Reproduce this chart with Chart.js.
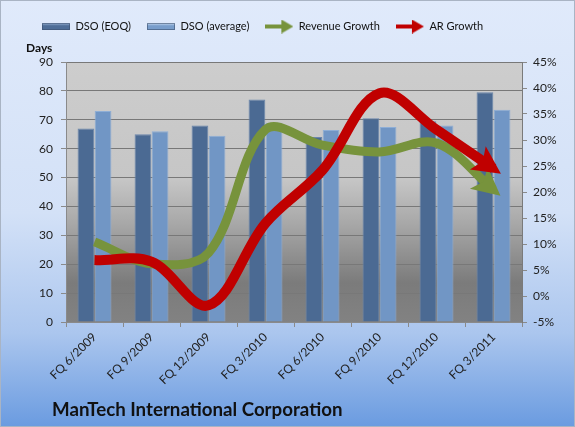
<!DOCTYPE html>
<html>
<head>
<meta charset="utf-8">
<script src="https://cdn.jsdelivr.net/npm/chart.js@4"></script>
<style>
  html, body { margin: 0; padding: 0; background: #fff; }
</style>
</head>
<body>
<canvas id="myChart" width="575" height="427"></canvas>
<script>
// values
const quarters = ['FQ 6/2009', 'FQ 9/2009', 'FQ 12/2009', 'FQ 3/2010', 'FQ 6/2010', 'FQ 9/2010', 'FQ 12/2010', 'FQ 3/2011'];
const dsoEoq = [67, 65, 68, 77, 64, 70.5, 69.5, 79.5];
const dsoAvg = [73, 66, 64.5, 69, 66.5, 67.5, 68, 73.5];
const revenueGrowth = [10.4, 6.2, 8.3, 32, 29, 27.7, 29.4, 20.4];   // %
const arGrowth = [6.9, 6.6, -1.8, 14, 24.2, 39, 32, 24.5];          // %
const chartTitle = 'ManTech International Corporation';

const FONT = 'Lato, "Open Sans", sans-serif';

// little pictures for the legend
function barSwatch(c1, c2) {
  const c = document.createElement('canvas');
  c.width = 28; c.height = 7;
  const g = c.getContext('2d');
  const gr = g.createLinearGradient(0, 0, 0, 7);
  gr.addColorStop(0, c2);
  gr.addColorStop(0.4, c1);
  gr.addColorStop(1, c1);
  g.fillStyle = gr;
  g.fillRect(0, 0, 28, 7);
  g.strokeStyle = 'rgba(60,80,110,0.6)';
  g.strokeRect(0.5, 0.5, 27, 6);
  return c;
}
function arrowSwatch(col) {
  const c = document.createElement('canvas');
  c.width = 28; c.height = 14;
  const g = c.getContext('2d');
  g.fillStyle = col;
  g.fillRect(0, 5, 18, 4);
  g.beginPath();
  g.moveTo(16, 0);
  g.lineTo(28, 7);
  g.lineTo(16, 14);
  g.closePath();
  g.fill();
  return c;
}
const swatches = [
  barSwatch('#4e6d97', '#9db6d8'),
  barSwatch('#789dcb', '#cfe0f5'),
  arrowSwatch('#77933c'),
  arrowSwatch('#c00000')
];

const background = {
  id: 'background',
  beforeDraw(chart) {
    const {ctx, width, height, chartArea: a} = chart;
    ctx.save();
    let g = ctx.createLinearGradient(0, 0, 0, height);
    g.addColorStop(0, '#e0eafb');
    g.addColorStop(0.5, '#d3e1f7');
    g.addColorStop(0.78, '#abc6ee');
    g.addColorStop(1, '#6a9be0');
    ctx.fillStyle = g;
    ctx.fillRect(0, 0, width, height);
    ctx.strokeStyle = '#a9b4c4';
    ctx.lineWidth = 1;
    ctx.strokeRect(0.5, 0.5, width - 1, height - 1);

    g = ctx.createLinearGradient(0, a.top, 0, a.bottom);
    g.addColorStop(0, '#cdcdcd');
    g.addColorStop(0.45, '#c6c6c6');
    g.addColorStop(0.62, '#a8a8a8');
    g.addColorStop(0.85, '#7b7b7b');
    g.addColorStop(1, '#828282');
    ctx.fillStyle = g;
    ctx.fillRect(a.left, a.top, a.right - a.left, a.bottom - a.top);
    ctx.restore();
  },
  afterDraw(chart) {
    const ctx = chart.ctx;
    ctx.save();
    ctx.font = 'bold 18.7px ' + FONT;
    ctx.fillStyle = '#111';
    ctx.textBaseline = 'middle';
    ctx.fillText(chartTitle, 52, 410);
    ctx.restore();
  }
};

// arrow heads at the end of the two growth lines
const arrowHeads = {
  id: 'arrowHeads',
  afterDatasetsDraw(chart) {
    const ctx = chart.ctx;
    chart.data.datasets.forEach((ds, i) => {
      if (ds.type !== 'line') return;
      const pts = chart.getDatasetMeta(i).data;
      const last = pts[pts.length - 1];
      const prev = pts[pts.length - 2];
      const fx = last.cp1x !== undefined ? last.cp1x : prev.x;
      const fy = last.cp1y !== undefined ? last.cp1y : prev.y;
      let dx = last.x - fx, dy = last.y - fy;
      const len = Math.hypot(dx, dy) || 1;
      dx /= len; dy /= len;
      const tipX = last.x + dx * 9, tipY = last.y + dy * 9;
      const baseX = tipX - dx * 28, baseY = tipY - dy * 28;
      const hw = 14;
      ctx.save();
      ctx.fillStyle = ds.borderColor;
      ctx.beginPath();
      ctx.moveTo(tipX, tipY);
      ctx.lineTo(baseX - dy * hw, baseY + dx * hw);
      ctx.lineTo(baseX + dx * 6, baseY + dy * 6);
      ctx.lineTo(baseX + dy * hw, baseY - dx * hw);
      ctx.closePath();
      ctx.fill();
      ctx.restore();
    });
  }
};

let myChart = document.getElementById('myChart');

new Chart(myChart, {
  data: {
    labels: quarters,
    datasets: [{
      type: 'bar',
      label: 'DSO (EOQ)',
      data: dsoEoq,
      backgroundColor: '#4b6a93',
      borderColor: '#6a86ad',
      borderWidth: 1,
      yAxisID: 'y',
      order: 3,
      categoryPercentage: 0.6,
      barPercentage: 0.98
    }, {
      type: 'bar',
      label: 'DSO (average)',
      data: dsoAvg,
      backgroundColor: '#7196c5',
      borderColor: '#8eaed6',
      borderWidth: 1,
      yAxisID: 'y',
      order: 3,
      categoryPercentage: 0.6,
      barPercentage: 0.98
    }, {
      type: 'line',
      label: 'Revenue Growth',
      data: revenueGrowth,
      borderColor: '#77933c',
      backgroundColor: '#77933c',
      borderWidth: 9,
      borderCapStyle: 'butt',
      tension: 0.35,
      pointRadius: 0,
      yAxisID: 'y1',
      order: 2
    }, {
      type: 'line',
      label: 'AR Growth',
      data: arGrowth,
      borderColor: '#c00000',
      backgroundColor: '#c00000',
      borderWidth: 10,
      borderCapStyle: 'butt',
      tension: 0.35,
      pointRadius: 0,
      yAxisID: 'y1',
      order: 1
    }]
  },
  options: {
    responsive: false,
    animation: false,
    layout: { padding: { top: 5, left: 26, right: 10, bottom: 0 } },
    plugins: {
      legend: {
        position: 'top',
        align: 'start',
        labels: {
          usePointStyle: true,
          pointStyleWidth: 28,
          padding: 16,
          color: '#111',
          font: { family: FONT, size: 11 },
          sort: (a, b) => a.datasetIndex - b.datasetIndex,
          generateLabels(chart) {
            const items = Chart.defaults.plugins.legend.labels.generateLabels(chart);
            items.forEach(it => { it.pointStyle = swatches[it.datasetIndex]; });
            return items;
          }
        }
      },
      subtitle: {
        display: true,
        text: 'Days',
        align: 'start',
        position: 'top',
        weight: 500,
        color: '#111',
        font: { family: FONT, size: 12, weight: 'bold', lineHeight: 1 },
        padding: { top: 0, bottom: 8 }
      },
      tooltip: { enabled: false }
    },
    scales: {
      x: {
        grid: { offset: true, drawOnChartArea: false, tickLength: 5, color: '#8a8a8a' },
        border: { color: '#8a8a8a' },
        ticks: {
          minRotation: 45,
          maxRotation: 45,
          autoSkip: false,
          color: '#222',
          font: { family: FONT, size: 12 }
        },
        afterFit(scale) { scale.height = 105; }
      },
      y: {
        position: 'left',
        min: 0,
        max: 90,
        ticks: { stepSize: 10, padding: 8, color: '#222', font: { family: FONT, size: 12 } },
        grid: { color: '#787878', tickLength: 5, tickColor: '#8a8a8a' },
        border: { color: '#8a8a8a' },
        afterFit(scale) { scale.width = 40; }
      },
      y1: {
        position: 'right',
        min: -5,
        max: 45,
        ticks: {
          stepSize: 5,
          padding: 6,
          color: '#222',
          font: { family: FONT, size: 12 },
          callback: v => v + '%'
        },
        grid: { drawOnChartArea: false, tickLength: 5, color: '#8a8a8a' },
        border: { color: '#7a7a7a' },
        afterFit(scale) { scale.width = 43; }
      }
    }
  },
  plugins: [background, arrowHeads]
});
</script>
</body>
</html>
